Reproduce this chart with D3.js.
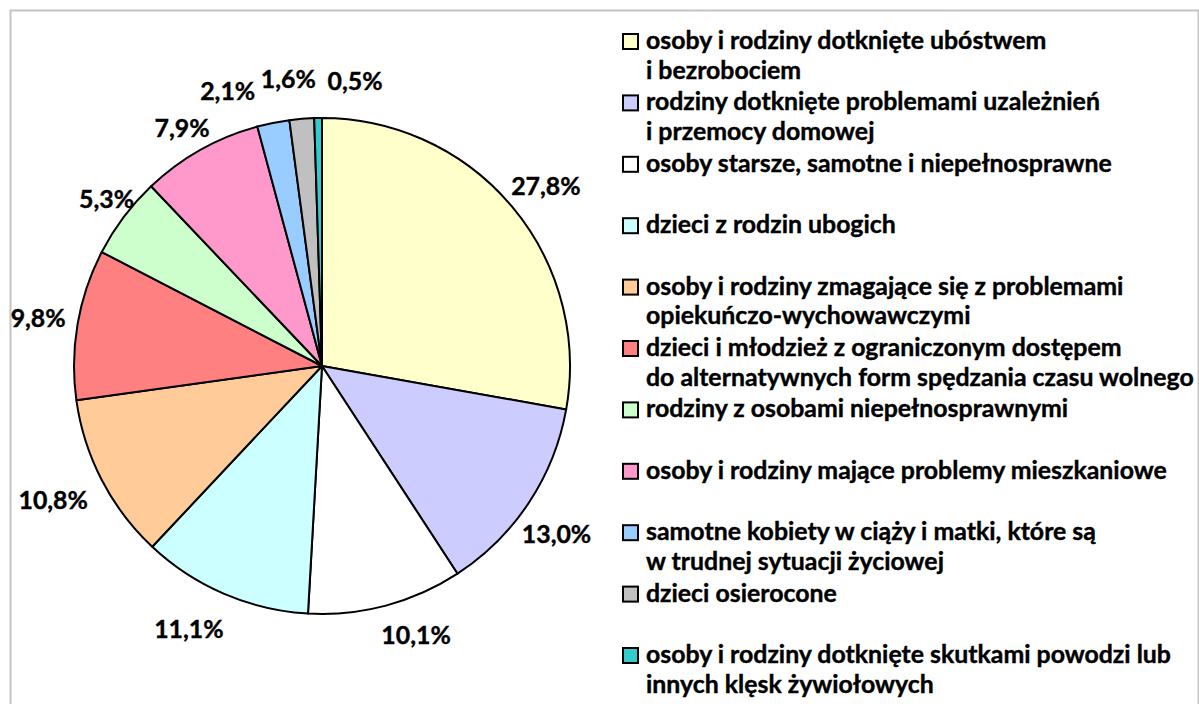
<!DOCTYPE html>
<html>
<head>
<meta charset="utf-8">
<script src="https://cdn.jsdelivr.net/npm/d3@7"></script>
<style>
  html, body { margin: 0; padding: 0; background: #fff; }
  svg { display: block; }
</style>
</head>
<body>
<div id="chart"></div>
<script>
// slices, clockwise from 12 o'clock
const values = [27.8, 13.0, 10.1, 11.1, 10.8, 9.8, 5.3, 7.9, 2.1, 1.6, 0.5];
const labels = ["27,8%", "13,0%", "10,1%", "11,1%", "10,8%", "9,8%", "5,3%", "7,9%", "2,1%", "1,6%", "0,5%"];
const colors = ["#FFFFCC", "#CCCCFF", "#FFFFFF", "#CCFFFF", "#FFCC99", "#FF8080",
                "#CCFFCC", "#FF99CC", "#99CCFF", "#C0C0C0", "#33CCCC"];
const legendLines = [
  ["osoby i rodziny dotknięte ubóstwem", "i bezrobociem"],
  ["rodziny dotknięte problemami uzależnień", "i przemocy domowej"],
  ["osoby starsze, samotne i niepełnosprawne"],
  ["dzieci z rodzin ubogich"],
  ["osoby i rodziny zmagające się z problemami", "opiekuńczo-wychowawczymi"],
  ["dzieci i młodzież z ograniczonym dostępem", "do alternatywnych form spędzania czasu wolnego"],
  ["rodziny z osobami niepełnosprawnymi"],
  ["osoby i rodziny mające problemy mieszkaniowe"],
  ["samotne kobiety w ciąży i matki, które są", "w trudnej sytuacji życiowej"],
  ["dzieci osierocone"],
  ["osoby i rodziny dotknięte skutkami powodzi lub", "innych klęsk żywiołowych"]
];
// label nudges: [angle shift in degrees, radius shift in px]
const labelNudge = [[1, 0], [2, 0], [-4.4, -4], [3.7, 6], [1, 12], [0, 0], [1, -15], [-1, -11], [-7.5, 4], [-2, 2], [7.5, 0]];

const width = 1199, height = 704;
const cx = 322, cy = 366, radius = 248;
const fontFamily = "Lato, 'Open Sans', sans-serif";

const svg = d3.select("#chart").append("svg")
  .attr("width", width)
  .attr("height", height);

svg.append("rect")
  .attr("x", 10.5).attr("y", 10.5)
  .attr("width", 1188).attr("height", 720)
  .attr("fill", "#fff")
  .attr("stroke", "#c4c4c4")
  .attr("stroke-width", 2);

const pie = d3.pie().sort(null).value(d => d);
const arcs = pie(values);
const arc = d3.arc().innerRadius(0).outerRadius(radius);

const g = svg.append("g").attr("transform", `translate(${cx},${cy})`);

g.selectAll("path.slice")
  .data(arcs)
  .enter()
  .append("path")
  .attr("class", "slice")
  .attr("d", arc)
  .attr("fill", (d, i) => colors[i])
  .attr("stroke", "#000")
  .attr("stroke-width", 2)
  .attr("stroke-linejoin", "round");

// size the font so the longest legend line spans like the original
let fontSize = 21;
const probe = svg.append("text")
  .attr("font-family", fontFamily)
  .attr("font-weight", "bold")
  .attr("font-size", fontSize)
  .text("do alternatywnych form spędzania czasu wolnego");
const w = probe.node().getComputedTextLength();
probe.remove();
if (w > 0) fontSize = fontSize * 548 / w;

const labelRadius = 288;
function labelPos(d, i) {
  const a = (d.startAngle + d.endAngle) / 2 + labelNudge[i][0] * Math.PI / 180;
  const r = labelRadius + labelNudge[i][1];
  return [Math.sin(a) * r, -Math.cos(a) * r];
}

g.selectAll("text.pct")
  .data(arcs)
  .enter()
  .append("text")
  .attr("class", "pct")
  .attr("x", (d, i) => labelPos(d, i)[0])
  .attr("y", (d, i) => labelPos(d, i)[1])
  .attr("text-anchor", "middle")
  .attr("dominant-baseline", "central")
  .attr("font-family", fontFamily)
  .attr("font-weight", "bold")
  .attr("font-size", fontSize)
  .attr("fill", "#000")
  .attr("stroke", "#000")
  .attr("stroke-width", 0.4)
  .text((d, i) => labels[i]);

// legend
const legendX = 622, legendTop = 49, itemStep = 61.4, lineStep = 29.5;
const legend = svg.append("g");
const items = legend.selectAll("g.item")
  .data(legendLines)
  .enter()
  .append("g")
  .attr("class", "item")
  .attr("transform", (d, i) => `translate(${legendX},${legendTop + i * itemStep})`);

items.append("rect")
  .attr("x", 1).attr("y", -15)
  .attr("width", 15).attr("height", 15)
  .attr("fill", (d, i) => colors[i])
  .attr("stroke", "#000")
  .attr("stroke-width", 2);

items.each(function(lines) {
  const t = d3.select(this).append("text")
    .attr("font-family", fontFamily)
    .attr("font-weight", "bold")
    .attr("font-size", fontSize)
    .attr("fill", "#000")
    .attr("stroke", "#000")
    .attr("stroke-width", 0.4);
  lines.forEach((line, j) => {
    t.append("tspan")
      .attr("x", 24)
      .attr("y", j * lineStep)
      .text(line);
  });
});
</script>
</body>
</html>
